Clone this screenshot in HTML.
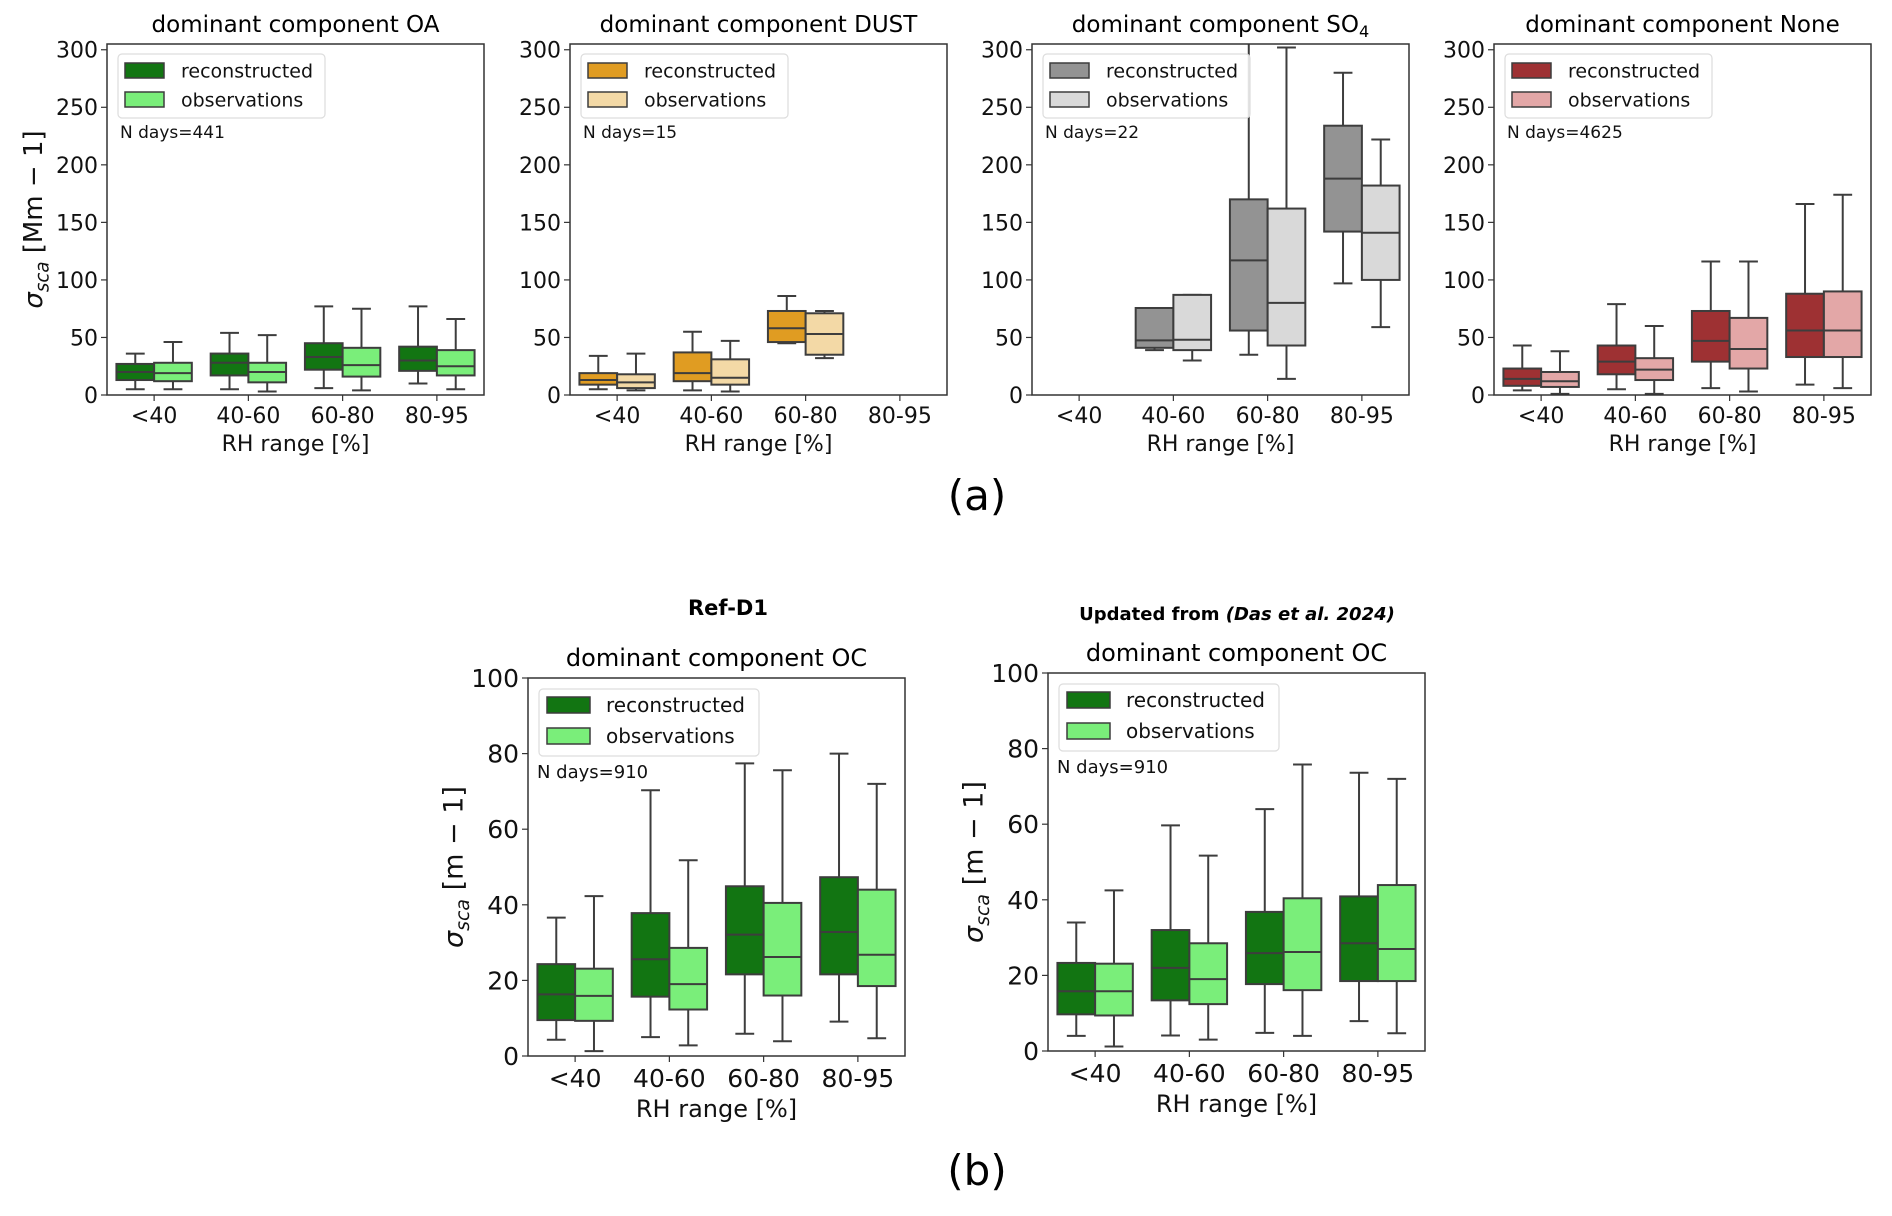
<!DOCTYPE html>
<html><head><meta charset="utf-8"><style>
html,body{margin:0;padding:0;background:#fff;}
svg{display:block;font-family:"DejaVu Sans","Liberation Sans",sans-serif;}
</style></head><body>
<svg id="fig" width="1892" height="1216" viewBox="0 0 1892 1216" xmlns="http://www.w3.org/2000/svg">
<text x="977" y="510" font-size="42" text-anchor="middle">(a)</text>
<text x="977" y="1185" font-size="42" text-anchor="middle">(b)</text>
<text x="728" y="615" font-size="21" font-weight="bold" text-anchor="middle">Ref-D1</text>
<text x="1237" y="620" font-size="18" font-weight="bold" text-anchor="middle">Updated from  <tspan font-style="italic">(Das et al. 2024)</tspan></text>
</svg>
<script>
const categories = ["<40","40-60","60-80","80-95"];
// each box: [whisker low, q1, median, q3, whisker high]; null = no data
const oaRec = [[5,13,20,27,36],[5,17,28,36,54],[6,22,33,45,77],[10,21,30,42,77]];
const oaObs = [[5,12,19,28,46],[3,11,20,28,52],[4,16,26,41,75],[5,17,25,39,66]];
const dustRec = [[5,9,13,19,34],[4,12,19,37,55],[45,46,58,73,86],null];
const dustObs = [[4,6,11,18,36],[3,9,15,31,47],[32,35,53,71,73],null];
const so4Rec = [null,[39,41,47.5,75.6,75.6],[35,56,117,170,400],[97,142,188,234,280]];
const so4Obs = [null,[30,39,48,87,87],[14,43,80,162,302],[59,100,141,182,222]];
const noneRec = [[4,8,14,23,43],[5,18,29,43,79],[6,29,47,73,116],[9,33,56,88,166]];
const noneObs = [[1,7,12,20,38],[1,13,22,32,60],[3,23,40,67,116],[6,33,56,90,174]];
const ocRefRec = [[4.3,9.5,16.3,24.3,36.6],[5,15.7,25.6,37.8,70.3],[5.9,21.6,32.1,44.9,77.4],[9.1,21.6,32.8,47.3,80]];
const ocRefObs = [[1.3,9.3,15.9,23.1,42.3],[2.8,12.3,19,28.6,51.8],[3.9,16,26.2,40.5,75.6],[4.7,18.5,26.8,44,72]];
const ocDasRec = [[4,9.7,15.8,23.3,34],[4.1,13.4,22,32,59.7],[4.8,17.7,25.9,36.8,64],[7.9,18.5,28.5,40.9,73.6]];
const ocDasObs = [[1.2,9.4,15.8,23.1,42.5],[3,12.4,19,28.5,51.7],[4,16.1,26.2,40.4,75.8],[4.7,18.5,27,43.9,72]];
const ticksA = [0,50,100,150,200,250,300];
const ticksB = [0,20,40,60,80,100];
const nDays = ["441","15","22","4625","910","910"];

const NS = "http://www.w3.org/2000/svg";
const svg = document.getElementById('fig');
function mk(tag, attrs, parent){
  const e = document.createElementNS(NS, tag);
  for (const k in attrs) e.setAttribute(k, attrs[k]);
  (parent||svg).appendChild(e);
  return e;
}
const EDGE = "#3d3d3d";

const panels = [
  {key:"oa", left:107, top:44, w:377, h:351, ymax:305, ticks:ticksA, rec:oaRec, obs:oaObs, c1:"#127512", c2:"#7aee7a", title:"dominant component OA", nd:nDays[0], big:false, ylab:"Mm − 1", ylx:33},
  {key:"dust", left:570, top:44, w:377, h:351, ymax:305, ticks:ticksA, rec:dustRec, obs:dustObs, c1:"#e09c22", c2:"#f3d9a6", title:"dominant component DUST", nd:nDays[1], big:false},
  {key:"so4", left:1032, top:44, w:377, h:351, ymax:305, ticks:ticksA, rec:so4Rec, obs:so4Obs, c1:"#939393", c2:"#d9d9d9", title:"dominant component SO", sub:"4", nd:nDays[2], big:false},
  {key:"none", left:1494, top:44, w:377, h:351, ymax:305, ticks:ticksA, rec:noneRec, obs:noneObs, c1:"#9e3133", c2:"#e3a7a7", title:"dominant component None", nd:nDays[3], big:false},
  {key:"oc-ref", left:528, top:678, w:377, h:378, ymax:100, ticks:ticksB, rec:ocRefRec, obs:ocRefObs, c1:"#127512", c2:"#7aee7a", title:"dominant component OC", nd:nDays[4], big:true, ylab:"m − 1", ylx:453},
  {key:"oc-das", left:1048, top:673, w:377, h:378, ymax:100, ticks:ticksB, rec:ocDasRec, obs:ocDasObs, c1:"#127512", c2:"#7aee7a", title:"dominant component OC", nd:nDays[5], big:true, ylab:"m − 1", ylx:973}
];

panels.forEach((p, pi) => {
  const g = mk('g', {});
  
  
  const fs = p.big ? {tick:25, title:24, xl:24, leg:20, nd:18, yl:27} : {tick:22, title:23, xl:22, leg:19, nd:17, yl:26};
  const yS = v => p.top + p.h - v / p.ymax * p.h;
  const cw = p.w / categories.length;
  const xS = i => p.left + cw * (i + 0.5);
  const cid = 'clip' + pi;
  const cp = mk('clipPath', {id: cid}, g);
  mk('rect', {x:p.left, y:p.top, width:p.w, height:p.h}, cp);
  const t = mk('text', {x:p.left + p.w/2, y:p.top - 12, 'font-size':fs.title, 'text-anchor':'middle'}, g);
  
  
  t.textContent = p.title;
  if (p.sub) { const s = mk('tspan', {'font-size':fs.title*0.7, dy:5}, t); s.textContent = p.sub; }
  p.ticks.forEach(v => {
    const y = yS(v);
    mk('line', {x1:p.left-6, x2:p.left, y1:y, y2:y, stroke:"#333", 'stroke-width':1.2}, g);
    const tl = mk('text', {x:p.left-9, y:y + fs.tick*0.36, 'font-size':fs.tick, 'text-anchor':'end', fill:"#111"}, g);
    
    
    tl.textContent = v;
  });
  categories.forEach((c, i) => {
    const x = xS(i);
    mk('line', {x1:x, x2:x, y1:p.top+p.h, y2:p.top+p.h+6, stroke:"#333", 'stroke-width':1.2}, g);
    const tl = mk('text', {x:x, y:p.top+p.h+fs.tick+6, 'font-size':fs.tick, 'text-anchor':'middle', fill:"#111"}, g);
    
    
    tl.textContent = c;
  });
  const xl = mk('text', {x:p.left+p.w/2, y:p.top+p.h+fs.tick+fs.xl+12, 'font-size':fs.xl, 'text-anchor':'middle', fill:"#111"}, g);
  
  
  xl.textContent = "RH range [%]";
  if (p.ylab) {
    const cy = p.top + p.h/2;
    const yl = mk('text', {x:p.ylx, y:cy, 'font-size':fs.yl, 'text-anchor':'middle', transform:`rotate(-90 ${p.ylx} ${cy})`, dy:fs.yl*0.35, fill:"#111"}, g);
    
    
    const a = mk('tspan', {'font-style':'italic'}, yl); a.textContent = "σ";
    const b = mk('tspan', {'font-style':'italic', 'font-size':fs.yl*0.7, dy:fs.yl*0.25}, yl); b.textContent = "sca";
    const c = mk('tspan', {dy:-fs.yl*0.25}, yl); c.textContent = " [" + p.ylab + "]";
  }
  const bw = cw * 0.4;
  const bg = mk('g', {'clip-path':`url(#${cid})`}, g);
  [[p.rec, p.c1, 0, 'reconstructed'], [p.obs, p.c2, 1, 'observations']].forEach(([ser, col, k, nm]) => {
    ser.forEach((d, i) => {
      if (!d) return;
      const x0 = xS(i) - cw*0.4 + k*bw;
      const xc = x0 + bw/2;
      const box = mk('g', {}, bg);
      
      
      mk('line', {x1:xc, x2:xc, y1:yS(d[0]), y2:yS(d[1]), stroke:EDGE, 'stroke-width':2}, box);
      mk('line', {x1:xc, x2:xc, y1:yS(d[3]), y2:yS(d[4]), stroke:EDGE, 'stroke-width':2}, box);
      mk('line', {x1:xc-bw/4, x2:xc+bw/4, y1:yS(d[0]), y2:yS(d[0]), stroke:EDGE, 'stroke-width':2}, box);
      mk('line', {x1:xc-bw/4, x2:xc+bw/4, y1:yS(d[4]), y2:yS(d[4]), stroke:EDGE, 'stroke-width':2}, box);
      mk('rect', {x:x0, y:yS(d[3]), width:bw, height:yS(d[1])-yS(d[3]), fill:col, stroke:EDGE, 'stroke-width':2}, box);
      mk('line', {x1:x0, x2:x0+bw, y1:yS(d[2]), y2:yS(d[2]), stroke:EDGE, 'stroke-width':2}, box);
    });
  });
  mk('rect', {x:p.left, y:p.top, width:p.w, height:p.h, fill:'none', stroke:"#333", 'stroke-width':1.5}, g);
  const lg = mk('g', {}, g);
  
  
  const L = p.big ? {x:11, y:11, w:220, h:67, px:19, pw:43, ph:16, r1:19, r2:50, tx:78, nx:9, ny:100}
                  : {x:11, y:10, w:207, h:64, px:18, pw:39, ph:15, r1:19, r2:48, tx:74, nx:13, ny:94};
  mk('rect', {x:p.left+L.x, y:p.top+L.y, width:L.w, height:L.h, rx:4, fill:'#fff', 'fill-opacity':0.85, stroke:'#ddd', 'stroke-width':1.2}, lg);
  [[p.c1,'reconstructed',L.r1],[p.c2,'observations',L.r2]].forEach(([col, nm, ry]) => {
    const e = mk('g', {}, lg);
    
    
    mk('rect', {x:p.left+L.px, y:p.top+ry, width:L.pw, height:L.ph, fill:col, stroke:EDGE, 'stroke-width':1.5}, e);
    const tt = mk('text', {x:p.left+L.tx, y:p.top+ry+L.ph/2+fs.leg*0.36, 'font-size':fs.leg, fill:'#111'}, e);
    tt.textContent = nm;
  });
  const nd = mk('text', {x:p.left+L.nx, y:p.top+L.ny, 'font-size':fs.nd, fill:'#111'}, g);
  
  
  nd.textContent = "N days=" + p.nd;
});
</script>
</body></html>
